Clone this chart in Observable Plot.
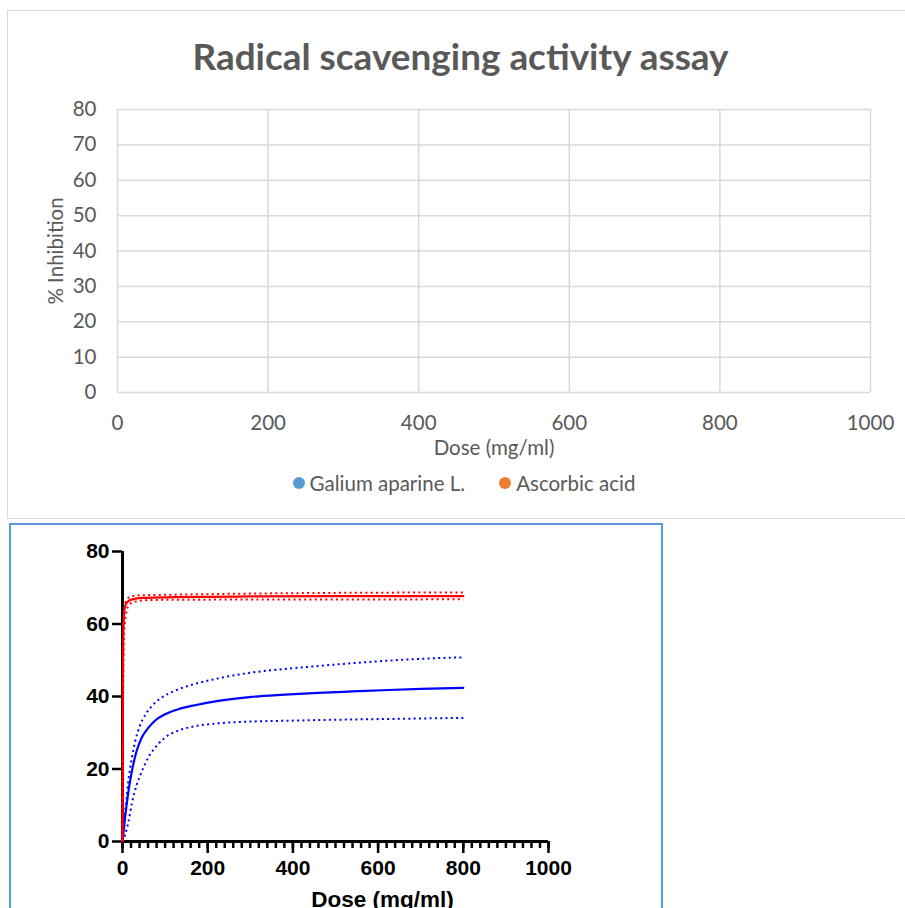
<!DOCTYPE html>
<html><head><meta charset="utf-8">
<script src="https://cdn.jsdelivr.net/npm/d3@7"></script>
<script src="https://cdn.jsdelivr.net/npm/@observablehq/plot@0.6"></script>
<style>
html,body{margin:0;padding:0;background:#fff;}
body{width:905px;height:908px;overflow:hidden;position:relative;}
#topbox{position:absolute;left:7px;top:10px;width:930px;height:509px;border:1.5px solid #d9d9d9;box-sizing:border-box;}
#botbox{position:absolute;left:9px;top:523px;width:654px;height:500px;border:2px solid #5b9bd5;box-sizing:border-box;}
#title{position:absolute;left:0;top:38px;width:922px;text-align:center;font-family:Lato,sans-serif;font-weight:bold;font-size:36px;line-height:36px;color:#595959;white-space:nowrap;}
#title span{display:inline-block;transform-origin:center;}
#legend{position:absolute;left:0;top:471px;width:928px;display:flex;justify-content:center;gap:34px;font-family:Lato,sans-serif;font-size:20.5px;line-height:24px;color:#595959;}
.item{display:flex;align-items:center;gap:5px;}
.dot{width:12px;height:12px;border-radius:50%;display:inline-block;}
#topchart{position:absolute;left:0;top:0;}
#botchart{position:absolute;left:0;top:530px;}
</style>
</head><body>
<div id="topbox"></div>
<div id="botbox"></div>
<div id="topchart"></div>
<div id="title"><span>Radical scavenging activity assay</span></div>
<div id="legend"></div>
<div id="botchart"></div>
<script>
// ---------- top (Excel) chart ----------
const topTitle = "Radical scavenging activity assay";
const topXTicks = [0, 200, 400, 600, 800, 1000];
const topYTicks = [0, 10, 20, 30, 40, 50, 60, 70, 80];
const xLabel = "Dose (mg/ml)";
const yLabel = "% Inhibition";
const seriesNames = ["Galium aparine L.", "Ascorbic acid"];
const seriesColors = ["#5b9bd5", "#ed7d31"];

// ---------- bottom (GraphPad) chart ----------
const botXTicks = [0, 200, 400, 600, 800, 1000];
const botMinorTicks = [0,20,40,60,80,100,120,140,160,180,200,220,240,260,280,300,320,340,360,380,400,420,440,460,480,500,520,540,560,580,600,620,640,660,680,700,720,740,760,780,800,820,840,860,880,900,920,940,960,980,1000];
const botYTicks = [0, 20, 40, 60, 80];

// Galium aparine L. fitted curve and confidence band
const galiumFitDose = [0,6,14,22,33,45,61,76,100,131,170,225,303,381,459,540,625,700,800];
const galiumFitInh  = [0,6.5,13.9,19.4,24.9,28.6,31.4,33.3,35.1,36.5,37.6,38.8,39.9,40.5,41.0,41.4,41.8,42.1,42.4];
const galiumUpDose  = [0,5,10,14,22,30,41,53,69,92,123,162,225,303,381,459,540,625,700,800];
const galiumUpInh   = [0,6.8,12.6,17.0,23.1,27.7,32.0,34.8,37.4,39.7,41.6,43.2,45.0,46.6,47.6,48.4,49.2,49.9,50.4,50.8];
const galiumLoDose  = [0,6,14,22,33,46,62,81,101,131,170,225,303,381,459,625,800];
const galiumLoInh   = [0,1.8,5.5,10.5,15.5,19.5,23.5,26.5,28.8,30.6,31.8,32.6,33.1,33.3,33.5,33.8,34.1];

// Ascorbic acid fitted curve and confidence band
const ascFitDose = [0,1,2.5,5.5,11,23,46,124,300,500,800];
const ascFitInh  = [0,45,60,64.6,66,66.8,67.2,67.4,67.6,67.7,67.7];
const ascUpDose  = [0,1,3,7,19,38,124,400,800];
const ascUpInh   = [0,50,63,66,67.6,67.9,68.1,68.5,68.7];
const ascLoDose  = [0,1.5,4,8,15,30,62,124,800];
const ascLoInh   = [0,40,58,62.5,65.2,66.2,66.6,66.7,66.8];

const pts = (xs, ys) => xs.map((x, i) => ({x, y: ys[i]}));

// top chart
const topPlot = Plot.plot({
  width: 905, height: 470,
  marginLeft: 117, marginRight: 35, marginTop: 109, marginBottom: 78,
  x: {domain: [0, 1000]},
  y: {domain: [0, 80]},
  style: {background: "transparent", fontFamily: "Lato, sans-serif", fontSize: "20.5px", color: "#595959", overflow: "visible"},
  marks: [
    Plot.gridX(topXTicks, {stroke: "#d9d9d9", strokeOpacity: 1, strokeWidth: 1.5}),
    Plot.gridY(topYTicks, {stroke: "#d9d9d9", strokeOpacity: 1, strokeWidth: 1.5}),
    Plot.axisX(topXTicks, {tickSize: 0, tickPadding: 23, tickFormat: "d", label: xLabel, labelAnchor: "center", labelOffset: 62, labelArrow: "none"}),
    Plot.axisY(topYTicks, {tickSize: 0, tickPadding: 21, tickFormat: "d", label: yLabel, labelAnchor: "center", labelOffset: 69, labelArrow: "none"})
  ]
});
document.getElementById("topchart").appendChild(topPlot);

// legend
const legend = document.getElementById("legend");
seriesNames.forEach((n, i) => {
  const it = document.createElement("div");
  it.className = "item";
  const d = document.createElement("span");
  d.className = "dot";
  d.style.background = seriesColors[i];
  const t = document.createElement("span");
  t.textContent = n;
  it.appendChild(d); it.appendChild(t);
  legend.appendChild(it);
});

// title width fit
const ts = document.querySelector("#title span");
ts.textContent = topTitle;
const w = ts.getBoundingClientRect().width;
ts.style.transform = `scaleX(${536 / w})`;

// bottom chart
const dotted = {strokeDasharray: "2,3.3", strokeWidth: 2, strokeLinecap: "butt", curve: "monotone-x"};
const solid = {strokeWidth: 2.2, curve: "monotone-x"};
const botPlot = Plot.plot({
  width: 662, height: 378,
  marginLeft: 122, marginRight: 114, marginTop: 21, marginBottom: 67,
  x: {domain: [0, 1000]},
  y: {domain: [0, 80]},
  style: {background: "transparent", fontFamily: "'Liberation Sans', Arial, sans-serif", fontSize: "21px", fontWeight: "bold", color: "#000", overflow: "visible"},
  marks: [
    Plot.axisX(botMinorTicks, {tickSize: 7, strokeWidth: 2.5, tickFormat: () => "", label: null}),
    Plot.axisX(botXTicks, {tickSize: 12, strokeWidth: 2.5, tickPadding: 7, tickFormat: "d", label: null}),
    Plot.axisY(botYTicks, {tickSize: 10, strokeWidth: 2.5, tickPadding: 3, tickFormat: "d", label: null}),
    Plot.ruleX([0], {y1: 0, y2: 80, strokeWidth: 3}),
    Plot.ruleY([0], {x1: 0, x2: 1000, strokeWidth: 3}),
    Plot.text([xLabel], {frameAnchor: "bottom", dx: 47, dy: 50, lineAnchor: "top", fontSize: 22.5, fontWeight: "bold"}),
    Plot.line(pts(galiumUpDose, galiumUpInh), {x: "x", y: "y", stroke: "#0000ff", ...dotted}),
    Plot.line(pts(galiumLoDose, galiumLoInh), {x: "x", y: "y", stroke: "#0000ff", ...dotted}),
    Plot.line(pts(galiumFitDose, galiumFitInh), {x: "x", y: "y", stroke: "#0000ff", ...solid}),
    Plot.line(pts(ascUpDose, ascUpInh), {x: "x", y: "y", stroke: "#ff0000", ...dotted}),
    Plot.line(pts(ascLoDose, ascLoInh), {x: "x", y: "y", stroke: "#ff0000", ...dotted}),
    Plot.line(pts(ascFitDose, ascFitInh), {x: "x", y: "y", stroke: "#ff0000", ...solid})
  ]
});
document.getElementById("botchart").appendChild(botPlot);
</script>
</body></html>
